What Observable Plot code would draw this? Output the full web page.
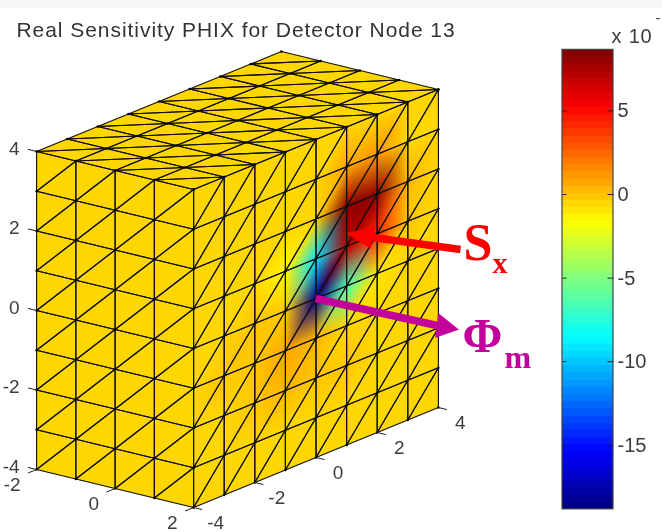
<!DOCTYPE html>
<html>
<head>
<meta charset="utf-8">
<script src="https://cdn.jsdelivr.net/npm/d3@7"></script>
<script src="https://cdn.jsdelivr.net/npm/@observablehq/plot@0.6"></script>
<style>
html,body{margin:0;padding:0;background:linear-gradient(#f6f6f6 8px,#fff 8px);width:662px;height:532px;overflow:hidden}
svg{display:block;filter:blur(0.35px)}
.title-text text{letter-spacing:0.95px}
.exp-text text{letter-spacing:0.8px}
</style>
</head>
<body>
<div id="chart"></div>
<script>
const titleText = "Real Sensitivity PHIX for Detector Node 13";
const xNodes = [-2, -1, 0, 1, 2];
const yNodes = [-4, -3, -2, -1, 0, 1, 2, 3, 4];
const zNodes = [4, 3, 2, 1, 0, -1, -2, -3, -4];
const xTicks = [-2, 0, 2];
const yTicks = [-4, -2, 0, 2, 4];
const zTicks = [-4, -2, 0, 2, 4];
const barTicks = [5, 0, -5, -10, -15];
const colorDomain = [-18.83, 8.65];
const B = -0.5; // background sensitivity over the mesh
// sensitivity on the x = 2 face, one row per z level (y = -4 ... 4)
const rowZp4 = [B, B, B, B, B, B, B, B, B];
const rowZp3 = [B, B, B, B, B, 0.6, 1.2, B, B];
const rowZp2 = [B, B, B, B, -0.7, 8.6, 8.0, 0.4, B];
const rowZp1 = [B, B, B, -1.4, -9.0, 7.0, 4.0, -0.2, B];
const rowZ0 = [B, B, -0.3, -0.1, -18.6, -6.5, -0.8, B, B];
const rowZm1 = [B, -0.3, -0.1, 0.5, 0.1, -0.7, B, B, B];
const rowZm2 = [B, B, -0.1, 0.1, -0.3, -0.1, B, B, B];
const rowZm3 = [B, B, B, B, B, B, B, B, B];
const rowZm4 = [B, B, B, B, B, B, B, B, B];
const faceRows = [rowZp4, rowZp3, rowZp2, rowZp1, rowZ0, rowZm1, rowZm2, rowZm3, rowZm4];

// annotation arrows, given in coordinates of the chart picture
const sxArrow = {from: [460, 249], to: [347, 233], wing1: [375, 226], wing2: [370, 248]};
const phiArrow = {from: [315, 298], to: [458, 329], wing1: [438, 313], wing2: [435, 337]};

// orthographic view of the 3-D box
const project = (x, y, z) => [237 + 39.25 * x + 30.6 * y, 279 + 9.5 * x - 12.5 * y - 39.75 * z];
const barY = v => 194 - 16.72 * v;

function jet(t) {
  const q = (Math.min(63, Math.max(0, Math.floor(t * 64))) + 0.5) / 64;
  const c = v => Math.round(255 * Math.max(0, Math.min(1, v)));
  const r = c(Math.min(4 * q - 1.5, -4 * q + 4.5));
  const g = c(Math.min(4 * q - 0.5, -4 * q + 3.5));
  const b = c(Math.min(4 * q + 0.5, -4 * q + 2.5));
  return `rgb(${r},${g},${b})`;
}
const colorOptions = {type: "linear", domain: colorDomain, interpolate: jet, clamp: true};
const colorScale = Plot.scale({color: colorOptions});
const nodeRGB = faceRows.map(r => r.map(v => d3.rgb(colorScale.apply(v))));
const baseColor = colorScale.apply(B);

function triangles(name, A, B2, f) {
  const out = [];
  for (let i = 0; i + 1 < A.length; i++) for (let j = 0; j + 1 < B2.length; j++) {
    const a0 = A[i], a1 = A[i + 1], b0 = B2[j], b1 = B2[j + 1];
    const add = (tag, pts) => pts.forEach(([a, b]) => {
      const [px, py] = project(...f(a, b));
      out.push({tri: `${name}${i}-${j}${tag}`, px, py});
    });
    add("a", [[a0, b0], [a1, b0], [a1, b1], [a0, b0]]);
    add("b", [[a0, b0], [a1, b1], [a0, b1], [a0, b0]]);
  }
  return out;
}
const zAsc = [...zNodes].reverse();
const leftTris = triangles("L", xNodes, zAsc, (x, z) => [x, -4, z]);
const topTris = triangles("T", xNodes, yNodes, (x, y) => [x, y, 4]);
const rightTris = triangles("R", yNodes, zAsc, (y, z) => [2, y, z]);

const nodes = [
  ...xNodes.flatMap(x => zNodes.map(z => project(x, -4, z))),
  ...xNodes.flatMap(x => yNodes.map(y => project(x, y, 4))),
  ...yNodes.flatMap(y => zNodes.map(z => project(2, y, z)))
];

// colours are interpolated in RGB over each triangle of the x = 2 face
function faceColor(px, py) {
  const y = (px - project(2, 0, 0)[0]) / 30.6;
  const z = (project(2, y, 0)[1] - py) / 39.75;
  if (y < -4 || y > 4 || z < -4 || z > 4) return null;
  const i = Math.min(7, Math.floor(y + 4)), k = Math.min(7, Math.floor(z + 4));
  const u = y + 4 - i, v = z + 4 - k;
  const at = (ii, kk) => nodeRGB[8 - kk][ii];
  const p = at(i, k), q = at(i + 1, k + 1);
  let r;
  if (u >= v) {
    const m = at(i + 1, k);
    r = [1 - u, u - v, v, m];
  } else {
    const m = at(i, k + 1);
    r = [1 - v, v - u, u, m];
  }
  const mix = ch => r[0] * p[ch] + r[1] * r[3][ch] + r[2] * q[ch];
  return `rgb(${Math.round(mix("r"))},${Math.round(mix("g"))},${Math.round(mix("b"))})`;
}

const tickMark = (list, f, g) => Plot.link(list, {
  x1: d => project(...f(d))[0], y1: d => project(...f(d))[1],
  x2: d => project(...g(d))[0], y2: d => project(...g(d))[1],
  stroke: "#222", strokeWidth: 1
});
const label = (list, f, dx, dy, textAnchor = "end") => Plot.text(list, {
  x: d => project(...f(d))[0], y: d => project(...f(d))[1],
  text: d => String(d), dx, dy, textAnchor, fontSize: 19, fill: "#3c3c3c"
});
const levels = d3.range(64).map(i => colorDomain[0] + (i + 0.5) * (colorDomain[1] - colorDomain[0]) / 64);
const levelH = (colorDomain[1] - colorDomain[0]) / 64;

const arrowHead = a => [a.to, a.wing1, a.wing2, a.to].map(([px, py]) => ({px, py}));
const arrowMark = (a, color) => [
  Plot.link([a], {x1: d => d.from[0], y1: d => d.from[1], x2: d => (d.wing1[0] + d.wing2[0]) / 2, y2: d => (d.wing1[1] + d.wing2[1]) / 2, stroke: color, strokeWidth: 7.5}),
  Plot.line(arrowHead(a), {x: "px", y: "py", fill: color, stroke: color, strokeWidth: 0.5})
];

const chart = Plot.plot({
  width: 662, height: 532,
  marginTop: 0, marginRight: 0, marginBottom: 0, marginLeft: 0,
  x: {domain: [0, 662], range: [0, 662], axis: null},
  y: {domain: [0, 532], range: [0, 532], axis: null},
  color: colorOptions,
  style: {background: "transparent", fontFamily: "'Liberation Sans',Arial,sans-serif", overflow: "visible"},
  marks: [
    Plot.line([...leftTris, ...topTris], {x: "px", y: "py", z: "tri", fill: baseColor, stroke: baseColor, strokeWidth: 0.5}),
    Plot.raster({x1: 190, x2: 440, y1: 85, y2: 510, width: 250, height: 425, fill: faceColor}),
    Plot.line([...leftTris, ...topTris, ...rightTris], {x: "px", y: "py", z: "tri", stroke: "#111", strokeWidth: 1.15}),
    Plot.dot(nodes, {x: d => d[0], y: d => d[1], r: 1.2, fill: "#000"}),
    tickMark(zTicks, z => [-2, -4, z], z => [-2.22, -4, z]),
    tickMark(xTicks, x => [x, -4, -4], x => [x, -4.28, -4]),
    tickMark(yTicks, y => [2, y, -4], y => [2.22, y, -4]),
    label(zTicks, z => [-2, -4, z], -17, -3),
    label(xTicks, x => [x, -4, -4], -16, 15.5),
    label(yTicks, y => [2, y, -4], 22, 15.5, "middle"),
    Plot.text([titleText], {x: () => 16, y: () => 30, text: d => d, textAnchor: "start", fontSize: 21, fill: "#333", className: "title-text"}),
    ...arrowMark(sxArrow, "#ff0000"),
    ...arrowMark(phiArrow, "#c4009a"),
    Plot.text(["S"], {x: () => 463, y: () => 243, text: d => d, textAnchor: "start", fontSize: 52, fontWeight: "bold", fontFamily: "'Liberation Serif',serif", fill: "#ff0000"}),
    Plot.text(["x"], {x: () => 492, y: () => 263, text: d => d, textAnchor: "start", fontSize: 30, fontWeight: "bold", fontFamily: "'Liberation Serif',serif", fill: "#ff0000"}),
    Plot.text(["Φ"], {x: () => 462, y: () => 336, text: d => d, textAnchor: "start", fontSize: 48, fontWeight: "bold", fontFamily: "'Liberation Serif',serif", fill: "#c4009a"}),
    Plot.text(["m"], {x: () => 504, y: () => 357, text: d => d, textAnchor: "start", fontSize: 32, fontWeight: "bold", fontFamily: "'Liberation Serif',serif", fill: "#c4009a"}),
    Plot.rect(levels, {x1: () => 562, x2: () => 613, y1: d => barY(d - levelH / 2), y2: d => barY(d + levelH / 2), fill: d => d, shapeRendering: "crispEdges"}),
    Plot.rect([0], {x1: () => 562, x2: () => 613, y1: () => barY(colorDomain[1]), y2: () => barY(colorDomain[0]), fill: "none", stroke: "#444", strokeWidth: 1.2}),
    Plot.link(barTicks, {x1: () => 562, x2: () => 566, y1: barY, y2: barY, stroke: "#222"}),
    Plot.link(barTicks, {x1: () => 607, x2: () => 613, y1: barY, y2: barY, stroke: "#222"}),
    Plot.text(barTicks, {x: () => 617, y: barY, text: d => String(d), textAnchor: "start", fontSize: 20, fill: "#3c3c3c"}),
    Plot.text(["x 10"], {x: () => 611, y: () => 36, text: d => d, textAnchor: "start", fontSize: 20, fill: "#3c3c3c", className: "exp-text"}),
    Plot.text(["-"], {x: () => 655, y: () => 18, text: d => d, textAnchor: "start", fontSize: 15, fill: "#3c3c3c"})
  ]
});
document.getElementById("chart").append(chart);
</script>
</body>
</html>
